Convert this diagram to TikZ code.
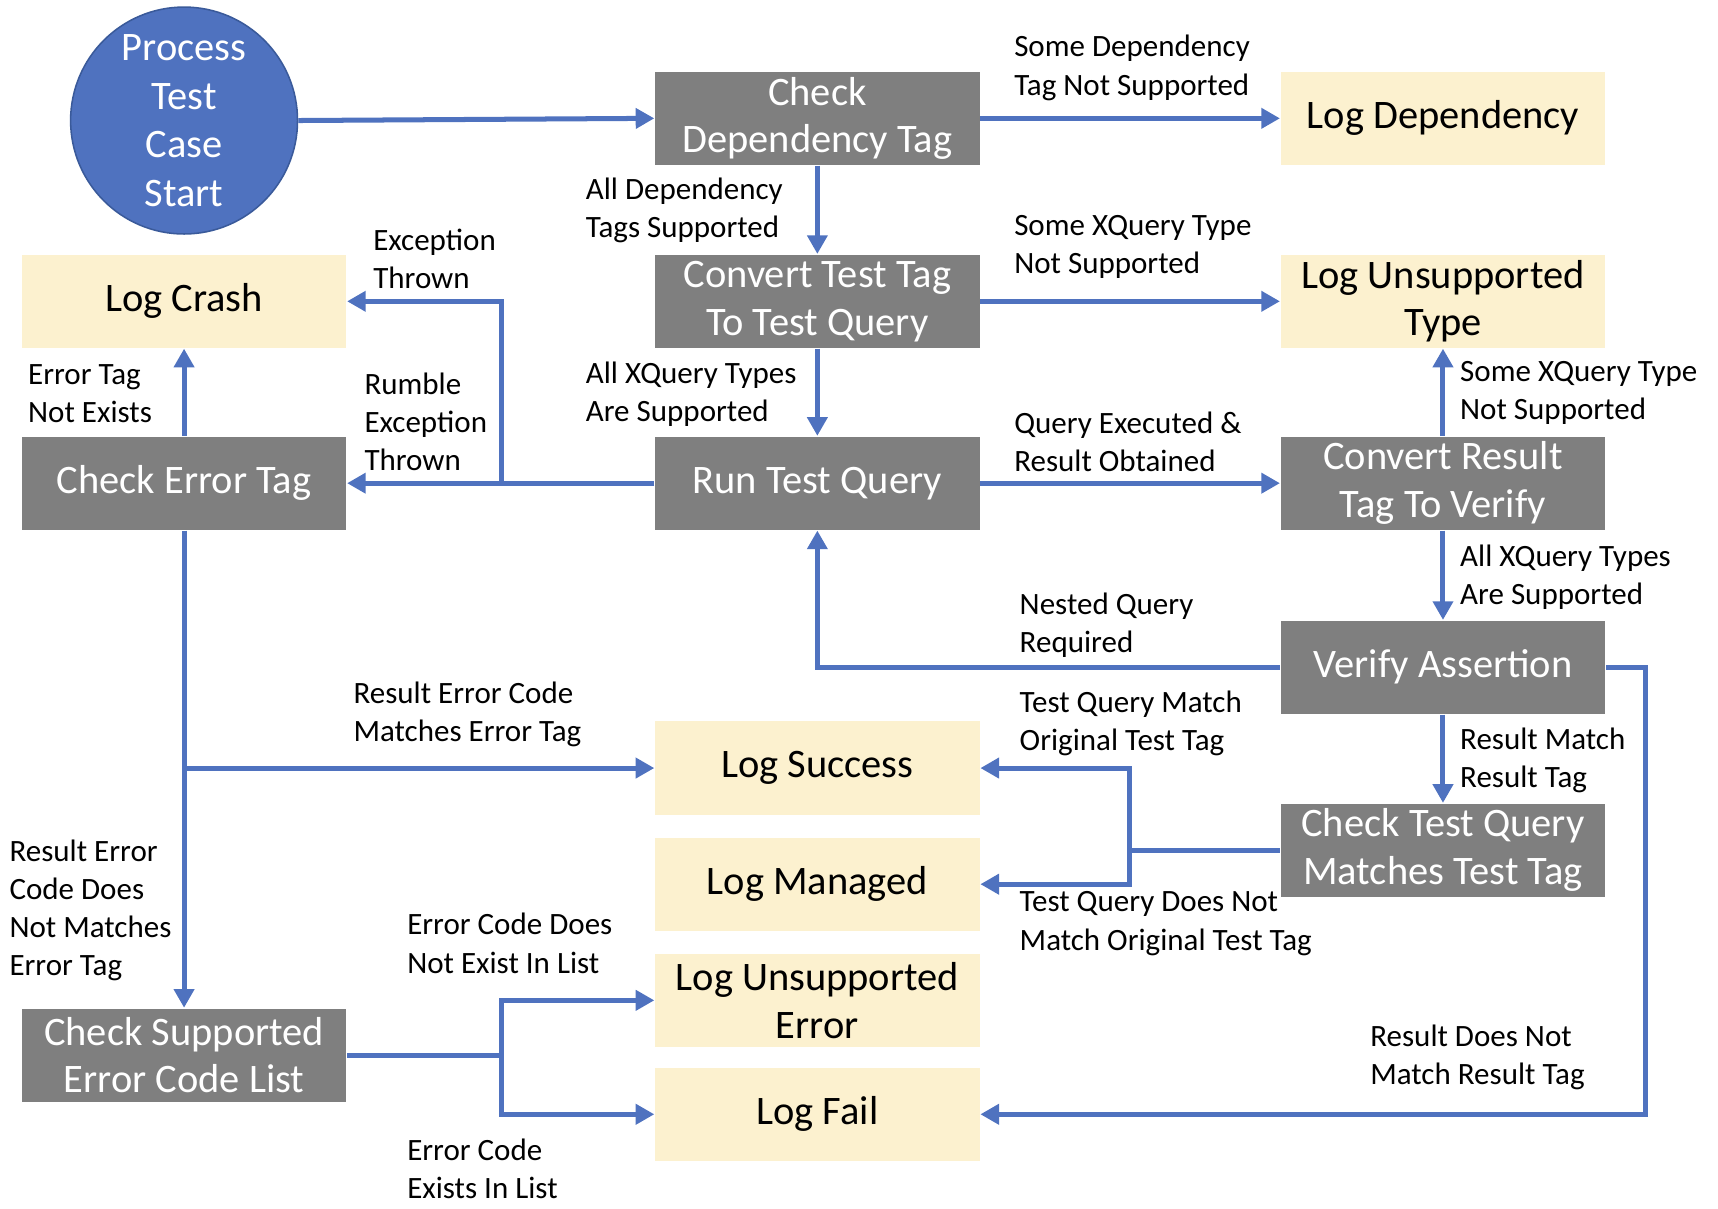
\documentclass[tikz,border=0pt]{standalone}
\usepackage{fontspec}
\setmainfont{Carlito}
\usetikzlibrary{arrows.meta}
\definecolor{flowblue}{HTML}{4F72BF}
\definecolor{darkblue}{HTML}{3A5A9A}
\definecolor{boxgray}{HTML}{7F7F7F}
\definecolor{logyellow}{HTML}{FCF1CF}
\tikzset{
  graybox/.style={fill=boxgray,text=white,minimum width=2.96cm,minimum height=0.85cm,
    align=center,inner sep=0pt,font=\fontsize{10.5}{12.4}\selectfont},
  logbox/.style={graybox,fill=logyellow,text=black},
  flow/.style={draw=flowblue,line width=1.3pt,-{Triangle[length=0.17cm,width=0.18cm]}},
  lbl/.style={anchor=west,inner sep=0pt,align=left,font=\fontsize{8.05}{9.9}\selectfont}
}
\begin{document}
\begin{tikzpicture}[x=0.01cm,y=-0.01cm]
\useasboundingbox (0,0) rectangle (1568,1103);
\node[circle,fill=flowblue,draw=darkblue,minimum size=2.07cm,inner sep=0pt,text=white,align=center,
  font=\fontsize{10.5}{12.6}\selectfont] (start) at (168,110) {Process\\Test\\Case\\Start};
\node[graybox] (cdt) at (746,108) {Check\\Dependency Tag};
\node[graybox] (ctt) at (746,275) {Convert Test Tag\\To Test Query};
\node[graybox] (rtq) at (746,441) {Run Test Query};
\node[graybox] (cet) at (168,441) {Check Error Tag};
\node[graybox] (crt) at (1317,441) {Convert Result\\Tag To Verify};
\node[graybox] (va) at (1317,609) {Verify Assertion};
\node[graybox] (ctq) at (1317,776) {Check Test Query\\Matches Test Tag};
\node[graybox] (csl) at (168,963) {Check Supported\\Error Code List};
\node[logbox] (ldep) at (1317,108) {Log Dependency};
\node[logbox] (ltype) at (1317,275) {Log Unsupported\\Type};
\node[logbox] (lcrash) at (168,275) {Log Crash};
\node[logbox] (lsucc) at (746,701) {Log Success};
\node[logbox] (lman) at (746,807) {Log Managed};
\node[logbox] (lerr) at (746,913) {Log Unsupported\\Error};
\node[logbox] (lfail) at (746,1017) {Log Fail};

\coordinate (jcrash) at (458,441);
\coordinate (jsucc) at (168,701);
\coordinate (jtag) at (1031,776);
\coordinate (jva) at (1502,609);
\coordinate (jlist) at (458,963);

\draw[flow] (start.east) -- (cdt.west);
\draw[flow] (cdt.east) -- (ldep.west);
\draw[flow] (cdt.south) -- (ctt.north);
\draw[flow] (ctt.east) -- (ltype.west);
\draw[flow] (ctt.south) -- (rtq.north);
\draw[flow] (rtq.east) -- (crt.west);
\draw[flow] (crt.north) -- (ltype.south);
\draw[flow] (crt.south) -- (va.north);
\draw[flow] (rtq.west) -- (cet.east);
\draw[flow] (jcrash) |- (lcrash.east);
\draw[flow] (cet.north) -- (lcrash.south);
\draw[flow] (va.west) -| (rtq.south);
\draw[flow] (cet.south) -- (csl.north);
\draw[flow] (jsucc) -- (lsucc.west);
\draw[flow] (va.south) -- (ctq.north);
\draw[flow] (ctq.west) -- (jtag) |- (lsucc.east);
\draw[flow] (jtag) |- (lman.east);
\draw[flow] (va.east) -- (jva) |- (lfail.east);
\draw[flow] (csl.east) -- (jlist) |- (lerr.west);
\draw[flow] (jlist) |- (lfail.west);

\node[lbl] (t1) at (925,62) {Some Dependency\\Tag Not Supported};
\node[lbl] (t2) at (534,192) {All Dependency\\Tags Supported};
\node[lbl] (t3) at (925,225) {Some XQuery Type\\Not Supported};
\node[lbl] (t4) at (534,360) {All XQuery Types\\Are Supported};
\node[lbl] (t5) at (925,403) {Query Executed \&\\Result Obtained};
\node[lbl] (t6) at (1332,359) {Some XQuery Type\\Not Supported};
\node[lbl] (t7) at (1332,527) {All XQuery Types\\Are Supported};
\node[lbl] (t8) at (332,385) {Rumble\\Exception\\Thrown};
\node[lbl] (t9) at (340,236) {Exception\\Thrown};
\node[lbl] (t10) at (25,359) {Error Tag\\Not Exists};
\node[lbl] (t11) at (930,571) {Nested Query\\Required};
\node[lbl] (t12) at (8,831) {Result Error\\Code Does\\Not Matches\\Error Tag};
\node[lbl] (t13) at (322,652) {Result Error Code\\Matches Error Tag};
\node[lbl] (t14) at (1332,694) {Result Match\\Result Tag};
\node[lbl] (t15) at (930,660) {Test Query Match\\Original Test Tag};
\node[lbl] (t16) at (930,843) {Test Query Does Not\\Match Original Test Tag};
\node[lbl] (t17) at (1250,965) {Result Does Not\\Match Result Tag};
\node[lbl] (t18) at (371,861) {Error Code Does\\Not Exist In List};
\node[lbl] (t19) at (371,1067) {Error Code\\Exists In List};
\end{tikzpicture}
\end{document}
